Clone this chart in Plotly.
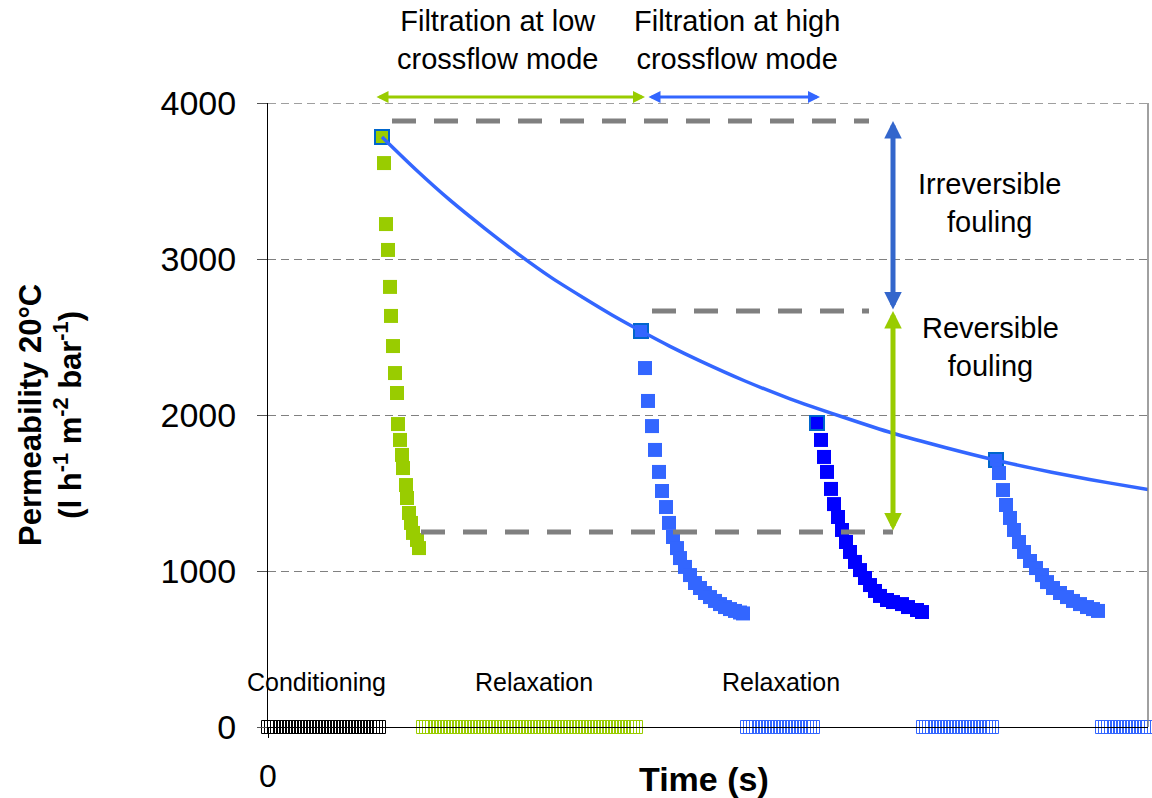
import plotly.graph_objects as go

FONT = "Arial, 'Liberation Sans', sans-serif"

GREEN = "#99CC00"
BLUE = "#3366FF"
DARK_BLUE = "#0000FF"
EDGE_BLUE = "#0066CC"
GREY = "#808080"

# ---------------- data (time in arbitrary units, permeability in l h-1 m-2 bar-1) -------------
low_t = [114, 116, 118, 120, 122, 123, 125, 127, 129, 130, 132, 134, 135, 138, 139, 141, 143, 145, 149, 151]
low_p = [3782, 3615, 3224, 3058, 2821, 2635, 2442, 2269, 2141, 1942, 1840, 1744, 1660, 1551, 1468,
         1372, 1308, 1244, 1199, 1147]

high1_t = [373, 377, 380, 384, 387, 391, 394, 398, 401, 405, 409, 412, 417, 422, 427, 432, 437, 442,
           447, 452, 457, 462, 467, 472, 475]
high1_p = [2538, 2301, 2090, 1929, 1776, 1635, 1513, 1410, 1308, 1218, 1147, 1083, 1026, 974, 923,
           891, 859, 833, 808, 788, 769, 756, 744, 734, 728]

high2_t = [549, 553, 556, 559, 563, 566, 570, 574, 578, 582, 587, 592, 597, 602, 607, 612, 619, 625,
           634, 640, 649, 654]
high2_p = [1949, 1840, 1731, 1635, 1526, 1429, 1346, 1263, 1186, 1122, 1058, 1006, 955, 910, 872,
           840, 814, 801, 788, 769, 750, 737]

high3_t = [728, 731, 735, 738, 742, 746, 751, 756, 762, 768, 774, 779, 785, 792, 799, 805, 812, 819,
           825, 830]
high3_p = [1712, 1628, 1519, 1423, 1340, 1263, 1186, 1122, 1064, 1019, 974, 929, 891, 859, 833, 808,
           788, 769, 756, 744]

fit_t = [114, 148, 182, 217, 252, 283, 315, 344, 373, 402, 432, 477, 522, 574, 625, 677, 728, 765,
         802, 841, 880]
fit_p = [3782, 3572, 3377, 3195, 3023, 2882, 2753, 2641, 2538, 2440, 2347, 2218, 2104, 1989, 1883,
         1792, 1710, 1658, 1610, 1565, 1523]

cond_t = [0, 3, 6, 9, 12, 15, 18, 21, 24, 27, 30, 33, 36, 39, 42, 45, 48, 51, 54, 57, 60, 63, 66, 69,
          72, 75, 78, 81, 84, 87, 90, 93, 96, 99, 102, 105, 108, 111]
relax1_t = [155, 158, 161, 164, 167, 170, 173, 176, 179, 182, 185, 188, 191, 194, 197, 200, 203, 206,
            209, 212, 215, 218, 221, 224, 227, 230, 233, 236, 239, 242, 245, 248, 251, 254, 257, 260,
            263, 266, 269, 272, 275, 278, 281, 284, 287, 290, 293, 296, 299, 302, 305, 308, 311, 314,
            317, 320, 323, 326, 329, 332, 335, 338, 341, 344, 347, 350, 353, 356, 359, 362, 365, 368]
relax2_t = [479, 482, 485, 488, 491, 494, 497, 500, 503, 506, 509, 512, 515, 518, 521, 524, 527, 530,
            533, 536, 539, 542, 545]
relax3_t = [655, 658, 661, 664, 667, 670, 673, 676, 679, 682, 685, 688, 691, 694, 697, 700, 703, 706,
            709, 712, 715, 718, 721, 724]
relax4_t = [834, 837, 840, 843, 846, 849, 852, 855, 858, 861, 864, 867, 870, 873, 876, 879]

irrev_top, rev_top, rev_bottom = 3885, 2667, 1250
y_ticks = [0, 1000, 2000, 3000, 4000]
x_ticks = [0]
x_ticklabels = ["0"]

# ---------------- figure -------------
X_MAX = 880
L, R, T, B, W, H = 268, 4, 103, 71, 1152, 798
PW, PH = W - L - R, H - T - B


def px_paper(px):
    return (px - L) / PW


def py_paper(py):
    return (H - B - py) / PH


fig = go.Figure()

for ts, col in [(cond_t, "#000000"), (relax1_t, GREEN), (relax2_t, BLUE), (relax3_t, BLUE),
                (relax4_t, BLUE)]:
    fig.add_trace(go.Scatter(
        x=ts, y=[0] * len(ts), mode="markers", cliponaxis=False, showlegend=False,
        marker=dict(symbol="square-open", size=13, color=col, line=dict(width=1, color=col))))

for ts, ps, col in [(low_t, low_p, GREEN), (high1_t, high1_p, BLUE),
                    (high2_t, high2_p, DARK_BLUE), (high3_t, high3_p, BLUE)]:
    lw = [2] + [0] * (len(ts) - 1)
    fig.add_trace(go.Scatter(
        x=ts, y=ps, mode="markers", cliponaxis=False, showlegend=False,
        marker=dict(symbol="square", size=14, color=col, line=dict(width=lw, color=EDGE_BLUE))))

fig.add_trace(go.Scatter(x=fit_t, y=fit_p, mode="lines", showlegend=False,
                         line=dict(color=BLUE, width=3.5, shape="spline", smoothing=0.8)))

# dashed reference levels
shapes = []
for x0, x1, yv in [(392 - L, 869 - L, irrev_top), (652 - L, 869 - L, rev_top),
                   (421 - L, 893 - L, rev_bottom)]:
    shapes.append(dict(type="line", xref="x", yref="y", x0=x0, x1=x1, y0=yv, y1=yv,
                       line=dict(color=GREY, width=5, dash="24px,18px")))
shapes.append(dict(type="line", xref="paper", yref="paper", x0=1, x1=1, y0=0, y1=1,
                   line=dict(color=GREY, width=1.5)))
shapes.append(dict(type="line", xref="paper", yref="y", x0=0, x1=1, y0=4000, y1=4000,
                   line=dict(color=GREY, width=1.3, dash="8px,5px")))

ann = []
# top horizontal double arrows
for x_head, x_tail, col in [(645 - L, 375 - L, GREEN), (820 - L, 647 - L, BLUE)]:
    ann.append(dict(x=x_head, y=py_paper(97), xref="x", yref="paper", ax=x_tail, ay=0,
                    axref="x", ayref="pixel", text="", showarrow=True, arrowhead=2,
                    startarrowhead=2, arrowside="end+start", arrowsize=0.8, startarrowsize=0.8,
                    arrowwidth=3, arrowcolor=col))
# vertical fouling arrows
for y_head, y_tail, col in [(irrev_top, rev_top, "#3366CC"), (rev_top, rev_bottom, GREEN)]:
    ann.append(dict(x=893 - L, y=y_head, xref="x", yref="y", ax=893 - L, ay=y_tail,
                    axref="x", ayref="y", text="", showarrow=True, arrowhead=2,
                    startarrowhead=2, arrowside="end+start", arrowsize=0.7, startarrowsize=0.7,
                    arrowwidth=5, arrowcolor=col))

txt = dict(showarrow=False, font=dict(family=FONT, size=29, color="black"))
ann.append(dict(txt, x=px_paper(497), y=py_paper(40), xref="paper", yref="paper",
                text="Filtration at low<br>crossflow mode", xanchor="center", yanchor="middle"))
ann.append(dict(txt, x=px_paper(737), y=py_paper(40), xref="paper", yref="paper",
                text="Filtration at high<br>crossflow mode", xanchor="center", yanchor="middle"))
ann.append(dict(txt, x=px_paper(989), y=py_paper(203), xref="paper", yref="paper",
                text="Irreversible<br>fouling", xanchor="center", yanchor="middle"))
ann.append(dict(txt, x=px_paper(990), y=py_paper(347), xref="paper", yref="paper",
                text="Reversible<br>fouling", xanchor="center", yanchor="middle"))
small = dict(showarrow=False, font=dict(family=FONT, size=25, color="black"))
for label, cx in [("Conditioning", 316), ("Relaxation", 534), ("Relaxation", 781)]:
    ann.append(dict(small, x=px_paper(cx), y=py_paper(682), xref="paper", yref="paper",
                    text=label, xanchor="center", yanchor="middle"))

# axis titles
ann.append(dict(x=px_paper(50), y=py_paper(415), xref="paper", yref="paper", showarrow=False,
                textangle=-90, xanchor="center", yanchor="middle",
                text="<b>Permeability 20°C</b><br><b>(l h<sup>-1</sup> m<sup>-2</sup> bar<sup>-1</sup>)</b>",
                font=dict(family=FONT, size=31, color="black")))
ann.append(dict(x=px_paper(704), y=py_paper(779), xref="paper", yref="paper", showarrow=False,
                xanchor="center", yanchor="middle", text="<b>Time (s)</b>",
                font=dict(family=FONT, size=34, color="black")))

fig.update_layout(
    width=W, height=H, margin=dict(l=L, r=R, t=T, b=B, pad=0, autoexpand=False),
    paper_bgcolor="white", plot_bgcolor="white",
    font=dict(family=FONT, color="black"),
    shapes=shapes, annotations=ann, showlegend=False,
    xaxis=dict(range=[0, X_MAX], tickvals=x_ticks, ticktext=x_ticklabels, showgrid=False,
               zeroline=False, showline=True, linecolor="black", linewidth=1, automargin=False,
               ticks="outside", ticklen=10, tickcolor="black", tickfont=dict(size=32),
               ticklabelstandoff=11),
    yaxis=dict(range=[0, 4000], tickvals=y_ticks, showgrid=True, gridcolor=GREY,
               griddash="8px,5px", gridwidth=1.3, zeroline=False, showline=True, automargin=False,
               linecolor="black", linewidth=1, ticks="outside", ticklen=10, tickcolor="#555555",
               tickfont=dict(size=34), ticklabelstandoff=14),
)

fig.write_html("out.html")
